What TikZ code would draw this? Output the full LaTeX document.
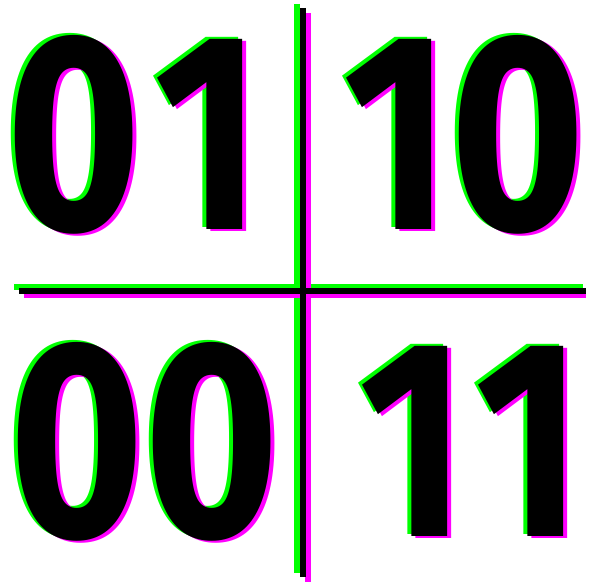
\documentclass[tikz,border=0pt]{standalone}
\usepackage{fontspec}
\setmainfont{Fira Sans}
\usetikzlibrary{positioning, calc}
\definecolor{glitchgreen}{RGB}{0, 255, 0}
\definecolor{glitchpink}{RGB}{255, 0, 255}

\newcommand{\bitpair}[3]{%
    \node[num, text=glitchgreen] at ($(#2)+(-4,-2)$) {#3};
    \node[num, text=glitchpink] at ($(#2)+(4,2)$) {#3};
    \node[num] (#1) at (#2) {#3};
}

\begin{document}
\begin{tikzpicture}[x=0.01cm, y=-0.01cm,
        num/.style={font=\fontsize{80}{80}\bfseries\selectfont, text=black,
                    anchor=base, inner sep=0pt, xscale=0.82},
        bar/.style={line width=0.06cm, line cap=butt}
    ]
    \useasboundingbox (0, 0) rectangle (589, 583);

    % quadrant labels
    \bitpair{q01}{134, 230}{0\kern0.055em1}
    \bitpair{q10}{464, 230}{10}
    \bitpair{q00}{144, 536}{00}
    \bitpair{q11}{471, 536}{1\kern0.043em1}

    % the cross
    \coordinate (top) at (303, 8);
    \coordinate (bottom) at (303, 577);
    \coordinate (left) at (19, 291);
    \coordinate (right) at (586, 291);

    \draw[bar, glitchgreen] ($(top)+(-6,-4)$) -- ($(bottom)+(-6,-4)$);
    \draw[bar, glitchgreen] ($(left)+(-5,-4)$) -- ($(right)+(-3,-4)$);
    \draw[bar, glitchpink] ($(top)+(5,5)$) -- ($(bottom)+(5,5)$);
    \draw[bar, glitchpink] ($(left)+(5,4)$) -- ($(right)+(0,4)$);
    \draw[bar] (top) -- (bottom);
    \draw[bar] (left) -- (right);

\end{tikzpicture}
\end{document}
